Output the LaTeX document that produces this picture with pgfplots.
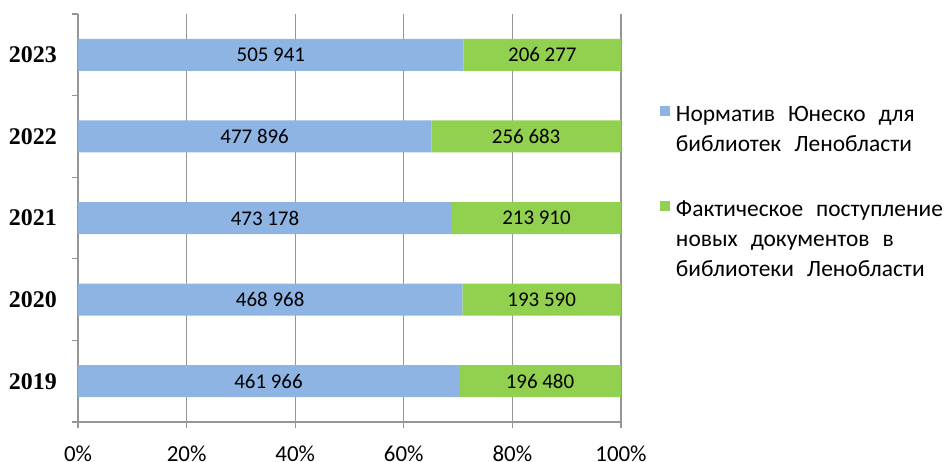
\documentclass[border=0pt]{standalone}
\usepackage{fontspec}
\setmainfont{Carlito}
\newfontfamily\yearfont{Liberation Serif}
\usepackage{pgfplots}
\usepackage{pgfplotstable}
\pgfplotsset{compat=1.18}

\definecolor{planblue}{RGB}{142,180,227}
\definecolor{factgreen}{RGB}{146,208,80}
\definecolor{gridgray}{RGB}{150,150,150}

% y: 0 = 2019 ... 4 = 2023
\pgfplotstableread[col sep=semicolon]{
y;plan;fact;labplan;labfact
0;461966;196480;461 966;196 480
1;468968;193590;468 968;193 590
2;473178;213910;473 178;213 910
3;477896;256683;477 896;256 683
4;505941;206277;505 941;206 277
}\libdata

\newcommand{\W}{\hspace{13bp}}

\begin{document}
\begin{tikzpicture}
\useasboundingbox (-78bp,-40bp) rectangle (872bp,422bp);
\begin{axis}[
	at={(0,0)}, anchor=south west,
	scale only axis, width=543bp, height=408bp,
	xbar stacked, bar width=32bp,
	xmin=0, xmax=100, ymin=-0.5, ymax=4.5,
	axis x line*=bottom, axis y line*=left,
	axis line style={draw=gridgray, line width=1.3bp},
	xmajorgrids,
	grid style={draw=gridgray, line width=1.3bp},
	tick style={draw=gridgray, line width=1.3bp},
	tick align=outside, major tick length=6bp,
	xtick={0,20,...,100},
	xticklabels={0\%,20\%,40\%,60\%,80\%,100\%},
	xticklabel style={font=\fontsize{23}{27}\selectfont, inner sep=0pt, text depth=0pt, yshift=-18bp},
	ytick={-0.5,0.5,...,4.5},
	yticklabels={},
	extra y ticks={0,1,2,3,4},
	extra y tick labels={2019,2020,2021,2022,2023},
	extra y tick style={major tick length=0pt, ytick style={draw=none},
		yticklabel style={font=\yearfont\bfseries\fontsize{24}{28}\selectfont, inner sep=0pt, xshift=-21bp}},
	nodes near coords, point meta=explicit symbolic,
	every node near coord/.append style={font=\fontsize{21}{25}\selectfont, text=black},
	legend style={at={(rel axis cs:1.0718,0.7875)}, anchor=north west,
		draw=none, fill=none, inner sep=0pt, outer sep=0pt,
		font=\fontsize{23.5}{30}\selectfont,
		column sep=6bp, row sep=0pt,
		nodes={inner sep=0pt, text height=21bp, text depth=9bp},
		cells={anchor=base west}},
	legend image code/.code={\fill[#1] (0bp,5.5bp) rectangle (10bp,15.5bp);},
	/pgf/number format/assume math mode=true,
]
\addplot[fill=planblue, draw=none]
	table[x expr={100*\thisrow{plan}/(\thisrow{plan}+\thisrow{fact})}, y=y, meta=labplan]{\libdata};
\addlegendentry{Норматив\W Юнеско\W для}
\addlegendimage{empty legend}
\addlegendentry{библиотек\W Ленобласти}
\addlegendimage{empty legend}
\addlegendentry[text depth=14bp]{}
\addplot[fill=factgreen, draw=none]
	table[x expr={100*\thisrow{fact}/(\thisrow{plan}+\thisrow{fact})}, y=y, meta=labfact]{\libdata};
\addlegendentry{Фактическое\W поступление}
\addlegendimage{empty legend}
\addlegendentry{новых\W документов\W в}
\addlegendimage{empty legend}
\addlegendentry{библиотеки\W Ленобласти}
\end{axis}
\end{tikzpicture}
\end{document}
